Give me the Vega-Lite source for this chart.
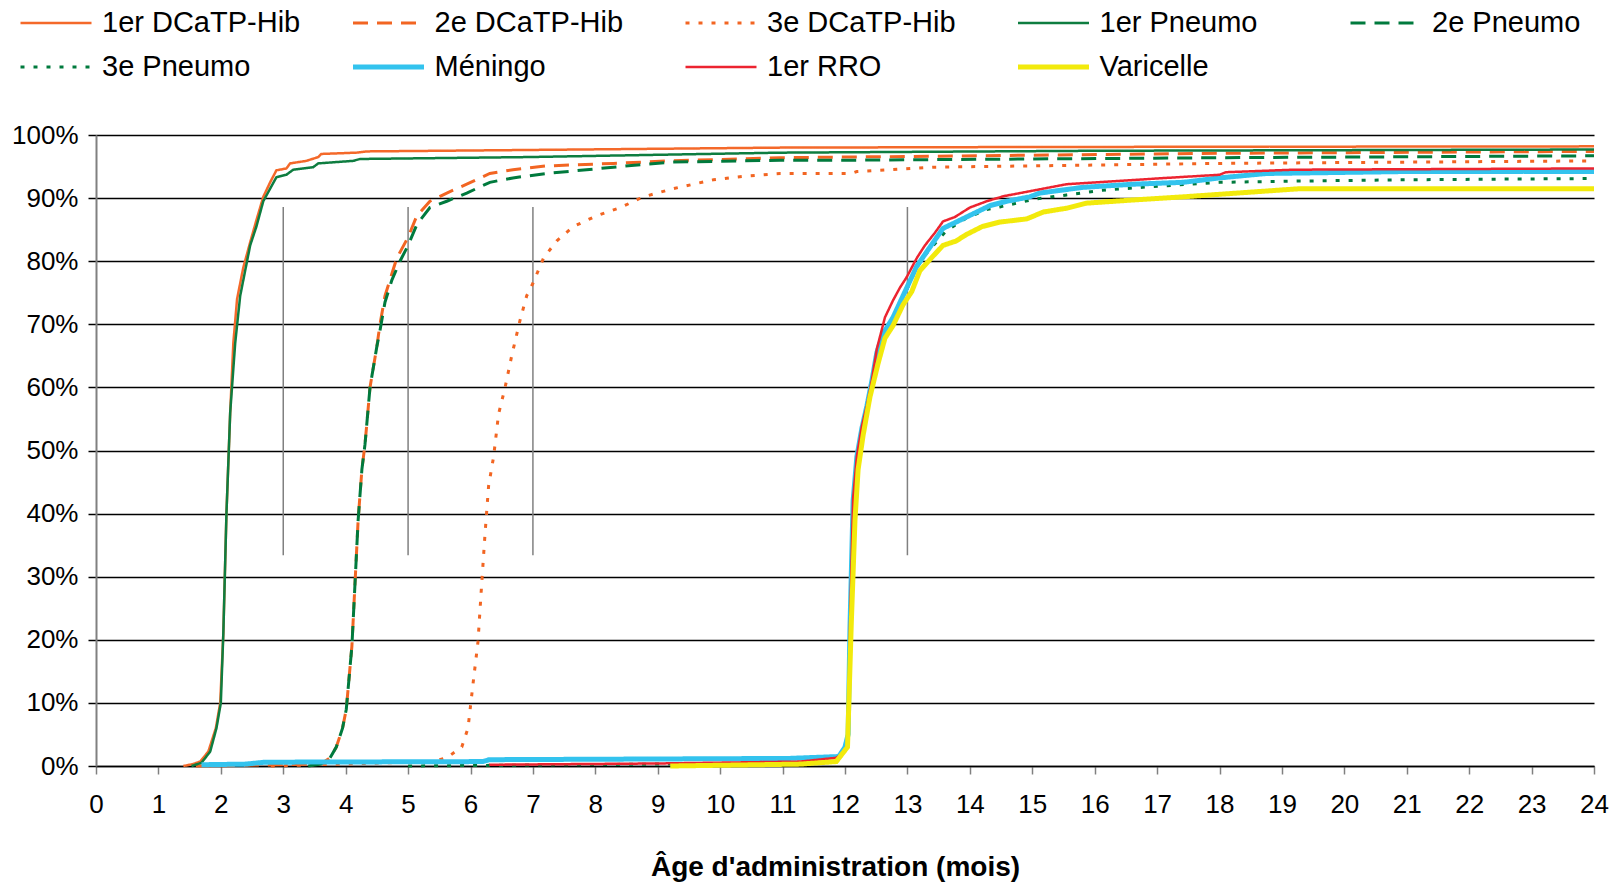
{
  "$schema": "https://vega.github.io/schema/vega-lite/v6.json",
  "width": 1498,
  "height": 631,
  "autosize": {"type": "none"},
  "padding": {"left": 96, "top": 135, "right": 26, "bottom": 118},
  "background": "white",
  "config": {"font": "Liberation Sans", "view": {"stroke": null}},
  "datasets": {
    "refs": [
      {"m": 3, "v": 33.4, "v2": 88.6},
      {"m": 5, "v": 33.4, "v2": 88.6},
      {"m": 7, "v": 33.4, "v2": 88.6},
      {"m": 13, "v": 33.4, "v2": 88.6}
    ],
    "curves": [
      {"s": "1er DCaTP-Hib", "m": 1.40, "v": 0},
      {"s": "1er DCaTP-Hib", "m": 1.55, "v": 0.3},
      {"s": "1er DCaTP-Hib", "m": 1.67, "v": 0.7},
      {"s": "1er DCaTP-Hib", "m": 1.80, "v": 2.3},
      {"s": "1er DCaTP-Hib", "m": 1.92, "v": 6},
      {"s": "1er DCaTP-Hib", "m": 1.99, "v": 10},
      {"s": "1er DCaTP-Hib", "m": 2.04, "v": 21},
      {"s": "1er DCaTP-Hib", "m": 2.09, "v": 40},
      {"s": "1er DCaTP-Hib", "m": 2.15, "v": 56},
      {"s": "1er DCaTP-Hib", "m": 2.20, "v": 67},
      {"s": "1er DCaTP-Hib", "m": 2.26, "v": 74},
      {"s": "1er DCaTP-Hib", "m": 2.36, "v": 79},
      {"s": "1er DCaTP-Hib", "m": 2.47, "v": 83},
      {"s": "1er DCaTP-Hib", "m": 2.57, "v": 86.5},
      {"s": "1er DCaTP-Hib", "m": 2.68, "v": 90.2},
      {"s": "1er DCaTP-Hib", "m": 2.79, "v": 92.5},
      {"s": "1er DCaTP-Hib", "m": 2.89, "v": 94.4},
      {"s": "1er DCaTP-Hib", "m": 3.05, "v": 94.7},
      {"s": "1er DCaTP-Hib", "m": 3.11, "v": 95.5},
      {"s": "1er DCaTP-Hib", "m": 3.37, "v": 95.9},
      {"s": "1er DCaTP-Hib", "m": 3.56, "v": 96.5},
      {"s": "1er DCaTP-Hib", "m": 3.61, "v": 97.0},
      {"s": "1er DCaTP-Hib", "m": 4.17, "v": 97.2},
      {"s": "1er DCaTP-Hib", "m": 4.34, "v": 97.4},
      {"s": "1er DCaTP-Hib", "m": 5.5, "v": 97.5},
      {"s": "1er DCaTP-Hib", "m": 7.75, "v": 97.7},
      {"s": "1er DCaTP-Hib", "m": 10.96, "v": 98.0},
      {"s": "1er DCaTP-Hib", "m": 15, "v": 98.1},
      {"s": "1er DCaTP-Hib", "m": 24, "v": 98.2},

      {"s": "2e DCaTP-Hib", "m": 1.6, "v": 0},
      {"s": "2e DCaTP-Hib", "m": 3.6, "v": 0.3},
      {"s": "2e DCaTP-Hib", "m": 3.75, "v": 1.3},
      {"s": "2e DCaTP-Hib", "m": 3.85, "v": 3},
      {"s": "2e DCaTP-Hib", "m": 3.95, "v": 6},
      {"s": "2e DCaTP-Hib", "m": 4.01, "v": 9},
      {"s": "2e DCaTP-Hib", "m": 4.10, "v": 19},
      {"s": "2e DCaTP-Hib", "m": 4.15, "v": 29},
      {"s": "2e DCaTP-Hib", "m": 4.20, "v": 39},
      {"s": "2e DCaTP-Hib", "m": 4.26, "v": 47},
      {"s": "2e DCaTP-Hib", "m": 4.31, "v": 51},
      {"s": "2e DCaTP-Hib", "m": 4.39, "v": 60},
      {"s": "2e DCaTP-Hib", "m": 4.50, "v": 66.5},
      {"s": "2e DCaTP-Hib", "m": 4.55, "v": 70},
      {"s": "2e DCaTP-Hib", "m": 4.63, "v": 74.5},
      {"s": "2e DCaTP-Hib", "m": 4.74, "v": 78},
      {"s": "2e DCaTP-Hib", "m": 4.82, "v": 80.5},
      {"s": "2e DCaTP-Hib", "m": 5.0, "v": 83.8},
      {"s": "2e DCaTP-Hib", "m": 5.14, "v": 87.2},
      {"s": "2e DCaTP-Hib", "m": 5.35, "v": 89.5},
      {"s": "2e DCaTP-Hib", "m": 5.62, "v": 90.8},
      {"s": "2e DCaTP-Hib", "m": 5.94, "v": 92.2},
      {"s": "2e DCaTP-Hib", "m": 6.31, "v": 93.9},
      {"s": "2e DCaTP-Hib", "m": 6.68, "v": 94.5},
      {"s": "2e DCaTP-Hib", "m": 7.22, "v": 95.1},
      {"s": "2e DCaTP-Hib", "m": 8.29, "v": 95.5},
      {"s": "2e DCaTP-Hib", "m": 9.2, "v": 95.9},
      {"s": "2e DCaTP-Hib", "m": 10.96, "v": 96.4},
      {"s": "2e DCaTP-Hib", "m": 12, "v": 96.5},
      {"s": "2e DCaTP-Hib", "m": 18, "v": 97.1},
      {"s": "2e DCaTP-Hib", "m": 24, "v": 97.4},

      {"s": "3e DCaTP-Hib", "m": 2.8, "v": 0},
      {"s": "3e DCaTP-Hib", "m": 5.4, "v": 0.7},
      {"s": "3e DCaTP-Hib", "m": 5.62, "v": 1.3},
      {"s": "3e DCaTP-Hib", "m": 5.86, "v": 3},
      {"s": "3e DCaTP-Hib", "m": 5.96, "v": 6},
      {"s": "3e DCaTP-Hib", "m": 6.04, "v": 13},
      {"s": "3e DCaTP-Hib", "m": 6.12, "v": 19.7},
      {"s": "3e DCaTP-Hib", "m": 6.18, "v": 29},
      {"s": "3e DCaTP-Hib", "m": 6.23, "v": 36.4},
      {"s": "3e DCaTP-Hib", "m": 6.29, "v": 44.4},
      {"s": "3e DCaTP-Hib", "m": 6.37, "v": 49},
      {"s": "3e DCaTP-Hib", "m": 6.45, "v": 55.8},
      {"s": "3e DCaTP-Hib", "m": 6.55, "v": 59.8},
      {"s": "3e DCaTP-Hib", "m": 6.66, "v": 65},
      {"s": "3e DCaTP-Hib", "m": 6.79, "v": 70.5},
      {"s": "3e DCaTP-Hib", "m": 6.90, "v": 74.5},
      {"s": "3e DCaTP-Hib", "m": 7.0, "v": 76.5},
      {"s": "3e DCaTP-Hib", "m": 7.17, "v": 80.5},
      {"s": "3e DCaTP-Hib", "m": 7.38, "v": 83.2},
      {"s": "3e DCaTP-Hib", "m": 7.65, "v": 85.5},
      {"s": "3e DCaTP-Hib", "m": 8.02, "v": 87.2},
      {"s": "3e DCaTP-Hib", "m": 8.4, "v": 88.5},
      {"s": "3e DCaTP-Hib", "m": 8.77, "v": 90.2},
      {"s": "3e DCaTP-Hib", "m": 9.25, "v": 91.5},
      {"s": "3e DCaTP-Hib", "m": 9.89, "v": 92.9},
      {"s": "3e DCaTP-Hib", "m": 10.42, "v": 93.5},
      {"s": "3e DCaTP-Hib", "m": 10.96, "v": 93.9},
      {"s": "3e DCaTP-Hib", "m": 12.1, "v": 93.9},
      {"s": "3e DCaTP-Hib", "m": 12.19, "v": 94.2},
      {"s": "3e DCaTP-Hib", "m": 13.41, "v": 94.9},
      {"s": "3e DCaTP-Hib", "m": 18, "v": 95.5},
      {"s": "3e DCaTP-Hib", "m": 24, "v": 95.9},

      {"s": "1er Pneumo", "m": 1.53, "v": 0},
      {"s": "1er Pneumo", "m": 1.69, "v": 0.5},
      {"s": "1er Pneumo", "m": 1.83, "v": 2.3},
      {"s": "1er Pneumo", "m": 1.93, "v": 6},
      {"s": "1er Pneumo", "m": 2.0, "v": 10},
      {"s": "1er Pneumo", "m": 2.04, "v": 21},
      {"s": "1er Pneumo", "m": 2.09, "v": 40},
      {"s": "1er Pneumo", "m": 2.15, "v": 56},
      {"s": "1er Pneumo", "m": 2.23, "v": 67},
      {"s": "1er Pneumo", "m": 2.31, "v": 74.5},
      {"s": "1er Pneumo", "m": 2.39, "v": 78.5},
      {"s": "1er Pneumo", "m": 2.47, "v": 82.5},
      {"s": "1er Pneumo", "m": 2.57, "v": 85.5},
      {"s": "1er Pneumo", "m": 2.68, "v": 89.5},
      {"s": "1er Pneumo", "m": 2.79, "v": 91.5},
      {"s": "1er Pneumo", "m": 2.89, "v": 93.3},
      {"s": "1er Pneumo", "m": 3.05, "v": 93.7},
      {"s": "1er Pneumo", "m": 3.16, "v": 94.5},
      {"s": "1er Pneumo", "m": 3.48, "v": 94.9},
      {"s": "1er Pneumo", "m": 3.56, "v": 95.5},
      {"s": "1er Pneumo", "m": 4.12, "v": 95.9},
      {"s": "1er Pneumo", "m": 4.23, "v": 96.2},
      {"s": "1er Pneumo", "m": 6.9, "v": 96.5},
      {"s": "1er Pneumo", "m": 10.96, "v": 97.2},
      {"s": "1er Pneumo", "m": 16, "v": 97.5},
      {"s": "1er Pneumo", "m": 24, "v": 97.7},

      {"s": "2e Pneumo", "m": 3.4, "v": 0},
      {"s": "2e Pneumo", "m": 3.6, "v": 0.3},
      {"s": "2e Pneumo", "m": 3.75, "v": 1.3},
      {"s": "2e Pneumo", "m": 3.85, "v": 3},
      {"s": "2e Pneumo", "m": 3.95, "v": 6},
      {"s": "2e Pneumo", "m": 4.01, "v": 9},
      {"s": "2e Pneumo", "m": 4.10, "v": 19},
      {"s": "2e Pneumo", "m": 4.15, "v": 29},
      {"s": "2e Pneumo", "m": 4.20, "v": 39},
      {"s": "2e Pneumo", "m": 4.26, "v": 47},
      {"s": "2e Pneumo", "m": 4.31, "v": 51},
      {"s": "2e Pneumo", "m": 4.39, "v": 60},
      {"s": "2e Pneumo", "m": 4.50, "v": 66.5},
      {"s": "2e Pneumo", "m": 4.55, "v": 69},
      {"s": "2e Pneumo", "m": 4.63, "v": 73.5},
      {"s": "2e Pneumo", "m": 4.74, "v": 77},
      {"s": "2e Pneumo", "m": 4.87, "v": 80},
      {"s": "2e Pneumo", "m": 5.0, "v": 82.5},
      {"s": "2e Pneumo", "m": 5.14, "v": 85.8},
      {"s": "2e Pneumo", "m": 5.35, "v": 88.5},
      {"s": "2e Pneumo", "m": 5.62, "v": 89.5},
      {"s": "2e Pneumo", "m": 5.94, "v": 90.8},
      {"s": "2e Pneumo", "m": 6.31, "v": 92.5},
      {"s": "2e Pneumo", "m": 6.68, "v": 93.2},
      {"s": "2e Pneumo", "m": 7.22, "v": 93.9},
      {"s": "2e Pneumo", "m": 8.29, "v": 94.9},
      {"s": "2e Pneumo", "m": 9.2, "v": 95.7},
      {"s": "2e Pneumo", "m": 10.96, "v": 96.0},
      {"s": "2e Pneumo", "m": 12, "v": 96.0},
      {"s": "2e Pneumo", "m": 18, "v": 96.4},
      {"s": "2e Pneumo", "m": 24, "v": 96.7},

      {"s": "3e Pneumo", "m": 5.0, "v": 0},
      {"s": "3e Pneumo", "m": 11.5, "v": 0.5},
      {"s": "3e Pneumo", "m": 11.9, "v": 1.5},
      {"s": "3e Pneumo", "m": 12.0, "v": 3},
      {"s": "3e Pneumo", "m": 12.05, "v": 5},
      {"s": "3e Pneumo", "m": 12.08, "v": 22},
      {"s": "3e Pneumo", "m": 12.13, "v": 42},
      {"s": "3e Pneumo", "m": 12.19, "v": 49},
      {"s": "3e Pneumo", "m": 12.27, "v": 53.5},
      {"s": "3e Pneumo", "m": 12.35, "v": 57},
      {"s": "3e Pneumo", "m": 12.43, "v": 61},
      {"s": "3e Pneumo", "m": 12.51, "v": 65.5},
      {"s": "3e Pneumo", "m": 12.61, "v": 68.5},
      {"s": "3e Pneumo", "m": 12.77, "v": 71},
      {"s": "3e Pneumo", "m": 12.99, "v": 75.5},
      {"s": "3e Pneumo", "m": 13.15, "v": 79},
      {"s": "3e Pneumo", "m": 13.31, "v": 81.3},
      {"s": "3e Pneumo", "m": 13.62, "v": 84.8},
      {"s": "3e Pneumo", "m": 13.94, "v": 86.8},
      {"s": "3e Pneumo", "m": 14.27, "v": 88.2},
      {"s": "3e Pneumo", "m": 14.48, "v": 88.6},
      {"s": "3e Pneumo", "m": 15.02, "v": 89.8},
      {"s": "3e Pneumo", "m": 15.55, "v": 90.5},
      {"s": "3e Pneumo", "m": 16.08, "v": 91.2},
      {"s": "3e Pneumo", "m": 16.88, "v": 91.8},
      {"s": "3e Pneumo", "m": 18.0, "v": 92.5},
      {"s": "3e Pneumo", "m": 19.29, "v": 92.7},
      {"s": "3e Pneumo", "m": 20.9, "v": 92.9},
      {"s": "3e Pneumo", "m": 24, "v": 93.1},

      {"s": "Méningo", "m": 1.69, "v": 0.2},
      {"s": "Méningo", "m": 2.4, "v": 0.3},
      {"s": "Méningo", "m": 2.7, "v": 0.6},
      {"s": "Méningo", "m": 6.2, "v": 0.7},
      {"s": "Méningo", "m": 6.3, "v": 1.0},
      {"s": "Méningo", "m": 11.1, "v": 1.2},
      {"s": "Méningo", "m": 11.9, "v": 1.5},
      {"s": "Méningo", "m": 12.0, "v": 3},
      {"s": "Méningo", "m": 12.05, "v": 5},
      {"s": "Méningo", "m": 12.08, "v": 22},
      {"s": "Méningo", "m": 12.13, "v": 42},
      {"s": "Méningo", "m": 12.19, "v": 49},
      {"s": "Méningo", "m": 12.27, "v": 53.5},
      {"s": "Méningo", "m": 12.35, "v": 57},
      {"s": "Méningo", "m": 12.43, "v": 61},
      {"s": "Méningo", "m": 12.51, "v": 65.5},
      {"s": "Méningo", "m": 12.61, "v": 68.5},
      {"s": "Méningo", "m": 12.77, "v": 71.1},
      {"s": "Méningo", "m": 12.99, "v": 75.8},
      {"s": "Méningo", "m": 13.15, "v": 79.2},
      {"s": "Méningo", "m": 13.31, "v": 81.5},
      {"s": "Méningo", "m": 13.57, "v": 85.2},
      {"s": "Méningo", "m": 13.78, "v": 86.2},
      {"s": "Méningo", "m": 14.05, "v": 87.5},
      {"s": "Méningo", "m": 14.32, "v": 88.8},
      {"s": "Méningo", "m": 14.59, "v": 89.5},
      {"s": "Méningo", "m": 14.96, "v": 90.2},
      {"s": "Méningo", "m": 15.12, "v": 90.8},
      {"s": "Méningo", "m": 15.81, "v": 91.7},
      {"s": "Méningo", "m": 16.61, "v": 92.2},
      {"s": "Méningo", "m": 17.42, "v": 92.5},
      {"s": "Méningo", "m": 18.0, "v": 93.2},
      {"s": "Méningo", "m": 18.75, "v": 93.9},
      {"s": "Méningo", "m": 20.9, "v": 94.2},
      {"s": "Méningo", "m": 24, "v": 94.2},

      {"s": "1er RRO", "m": 6.3, "v": 0.2},
      {"s": "1er RRO", "m": 9, "v": 0.4},
      {"s": "1er RRO", "m": 11.28, "v": 0.7},
      {"s": "1er RRO", "m": 11.86, "v": 1.3},
      {"s": "1er RRO", "m": 11.97, "v": 2},
      {"s": "1er RRO", "m": 12.05, "v": 3.7},
      {"s": "1er RRO", "m": 12.08, "v": 22.4},
      {"s": "1er RRO", "m": 12.13, "v": 42.4},
      {"s": "1er RRO", "m": 12.19, "v": 49.1},
      {"s": "1er RRO", "m": 12.27, "v": 53.8},
      {"s": "1er RRO", "m": 12.35, "v": 57.1},
      {"s": "1er RRO", "m": 12.43, "v": 61.1},
      {"s": "1er RRO", "m": 12.51, "v": 66.1},
      {"s": "1er RRO", "m": 12.64, "v": 71.1},
      {"s": "1er RRO", "m": 12.77, "v": 73.8},
      {"s": "1er RRO", "m": 12.88, "v": 75.8},
      {"s": "1er RRO", "m": 12.99, "v": 77.5},
      {"s": "1er RRO", "m": 13.15, "v": 80.5},
      {"s": "1er RRO", "m": 13.28, "v": 82.5},
      {"s": "1er RRO", "m": 13.44, "v": 84.5},
      {"s": "1er RRO", "m": 13.57, "v": 86.3},
      {"s": "1er RRO", "m": 13.76, "v": 87.0},
      {"s": "1er RRO", "m": 14.0, "v": 88.5},
      {"s": "1er RRO", "m": 14.27, "v": 89.5},
      {"s": "1er RRO", "m": 14.54, "v": 90.3},
      {"s": "1er RRO", "m": 15.02, "v": 91.2},
      {"s": "1er RRO", "m": 15.55, "v": 92.2},
      {"s": "1er RRO", "m": 16.35, "v": 92.7},
      {"s": "1er RRO", "m": 17.15, "v": 93.2},
      {"s": "1er RRO", "m": 18.0, "v": 93.7},
      {"s": "1er RRO", "m": 18.1, "v": 94.1},
      {"s": "1er RRO", "m": 19.18, "v": 94.5},
      {"s": "1er RRO", "m": 24, "v": 94.7},

      {"s": "Varicelle", "m": 9.2, "v": 0},
      {"s": "Varicelle", "m": 11.28, "v": 0.3},
      {"s": "Varicelle", "m": 11.86, "v": 0.7},
      {"s": "Varicelle", "m": 12.04, "v": 3},
      {"s": "Varicelle", "m": 12.1, "v": 22.4},
      {"s": "Varicelle", "m": 12.16, "v": 39},
      {"s": "Varicelle", "m": 12.21, "v": 47},
      {"s": "Varicelle", "m": 12.29, "v": 52.4},
      {"s": "Varicelle", "m": 12.40, "v": 58.5},
      {"s": "Varicelle", "m": 12.53, "v": 63.8},
      {"s": "Varicelle", "m": 12.64, "v": 67.8},
      {"s": "Varicelle", "m": 12.77, "v": 69.8},
      {"s": "Varicelle", "m": 12.93, "v": 73.1},
      {"s": "Varicelle", "m": 13.07, "v": 75.2},
      {"s": "Varicelle", "m": 13.2, "v": 78.5},
      {"s": "Varicelle", "m": 13.41, "v": 80.8},
      {"s": "Varicelle", "m": 13.57, "v": 82.5},
      {"s": "Varicelle", "m": 13.78, "v": 83.2},
      {"s": "Varicelle", "m": 13.94, "v": 84.2},
      {"s": "Varicelle", "m": 14.2, "v": 85.5},
      {"s": "Varicelle", "m": 14.48, "v": 86.2},
      {"s": "Varicelle", "m": 14.91, "v": 86.7},
      {"s": "Varicelle", "m": 15.18, "v": 87.8},
      {"s": "Varicelle", "m": 15.55, "v": 88.4},
      {"s": "Varicelle", "m": 15.87, "v": 89.2},
      {"s": "Varicelle", "m": 16.61, "v": 89.7},
      {"s": "Varicelle", "m": 17.42, "v": 90.2},
      {"s": "Varicelle", "m": 18.0, "v": 90.6},
      {"s": "Varicelle", "m": 19.3, "v": 91.5},
      {"s": "Varicelle", "m": 24, "v": 91.5}
    ]
  },
  "encoding": {
    "x": {
      "field": "m", "type": "quantitative",
      "scale": {"domain": [0, 24], "nice": false, "zero": false},
      "axis": {
        "title": "Âge d'administration (mois)",
        "values": [0,1,2,3,4,5,6,7,8,9,10,11,12,13,14,15,16,17,18,19,20,21,22,23,24],
        "grid": false,
        "domainColor": "black", "domainWidth": 1.5,
        "tickColor": "#808080", "tickSize": 8, "tickWidth": 1.5,
        "labelFontSize": 26, "labelColor": "black", "labelPadding": 17,
        "labelAngle": 0, "labelFlush": false, "labelOverlap": false,
        "titleFontSize": 28, "titleFontWeight": "bold", "titleColor": "black",
        "titlePadding": 36, "titleX": 739, "titleAlign": "center"
      }
    },
    "y": {
      "field": "v", "type": "quantitative",
      "scale": {"domain": [0, 100], "nice": false},
      "axis": {
        "title": null,
        "values": [0,10,20,30,40,50,60,70,80,90,100],
        "grid": true, "gridColor": "black", "gridWidth": 1.5, "gridOpacity": 1,
        "domainColor": "#808080", "domainWidth": 2,
        "tickColor": "black", "tickSize": 8, "tickWidth": 1.5,
        "labelFontSize": 26, "labelColor": "black", "labelPadding": 10,
        "labelExpr": "datum.value + '%'", "labelFlush": false, "labelOverlap": false
      }
    }
  },
  "layer": [
    {
      "data": {"name": "refs"},
      "mark": {"type": "rule", "color": "#808080", "strokeWidth": 1.5},
      "encoding": {"y2": {"field": "v2"}}
    },
    {
      "data": {"name": "curves"},
      "mark": {"type": "line", "interpolate": "linear", "strokeCap": "butt"},
      "encoding": {
        "color": {
          "field": "s", "type": "nominal",
          "scale": {
            "domain": ["1er DCaTP-Hib", "2e DCaTP-Hib", "3e DCaTP-Hib", "1er Pneumo", "2e Pneumo", "3e Pneumo", "Méningo", "1er RRO", "Varicelle"],
            "range": ["#F4692A", "#F26522", "#F26522", "#0E7D40", "#007A3D", "#007A3D", "#33C3EE", "#EC2430", "#F2EA0C"]
          },
          "legend": {
            "orient": "none", "legendX": -78, "legendY": -130,
            "direction": "horizontal", "columns": 5, "title": null,
            "symbolType": "stroke", "symbolSize": 5041, "clipHeight": 36,
            "labelFontSize": 29, "labelColor": "black", "labelOffset": 8, "labelLimit": 400,
            "rowPadding": 8, "columnPadding": 49.5, "gridAlign": "all", "padding": 0
          }
        },
        "strokeDash": {
          "field": "s", "type": "nominal",
          "scale": {
            "domain": ["1er DCaTP-Hib", "2e DCaTP-Hib", "3e DCaTP-Hib", "1er Pneumo", "2e Pneumo", "3e Pneumo", "Méningo", "1er RRO", "Varicelle"],
            "range": [[1, 0], [15, 9], [4, 9], [1, 0], [15, 9], [4, 9], [1, 0], [1, 0], [1, 0]]
          }
        },
        "strokeWidth": {
          "field": "s", "type": "nominal",
          "scale": {
            "type": "ordinal",
            "domain": ["1er DCaTP-Hib", "2e DCaTP-Hib", "3e DCaTP-Hib", "1er Pneumo", "2e Pneumo", "3e Pneumo", "Méningo", "1er RRO", "Varicelle"],
            "range": [2.5, 3, 3, 2.5, 3, 3, 5, 2.5, 5]
          }
        }
      }
    }
  ]
}
